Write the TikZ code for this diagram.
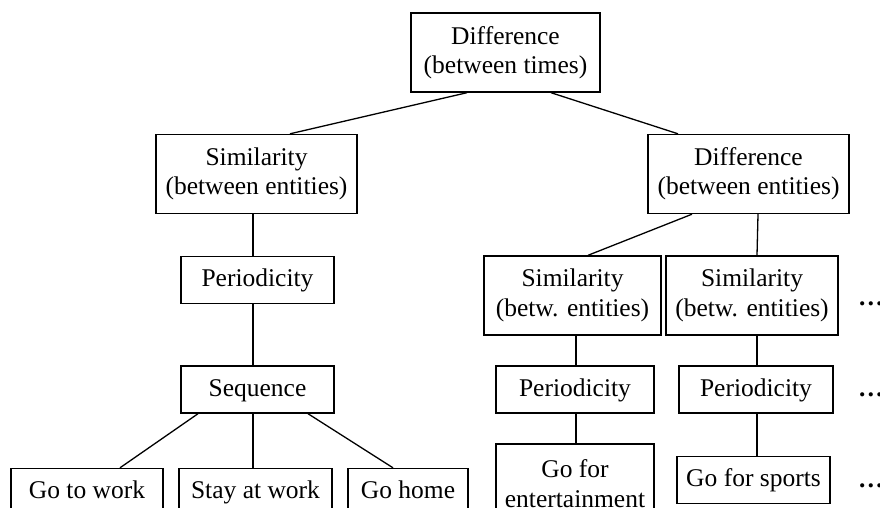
\documentclass[tikz,border=0pt]{standalone}
\usepackage{fontspec}
\setmainfont{Liberation Serif}
\usetikzlibrary{positioning,calc}

\begin{document}
\begin{tikzpicture}[x=1pt, y=-1pt,
		boxbase/.style={draw=black, rectangle, line width=1.4pt, align=center, inner sep=2pt, font=\fontsize{25.5}{29.3}\selectfont},
		opbox/.style={boxbase, minimum height=47pt, text height=19pt, text depth=6pt},
		twoline/.style={boxbase, minimum height=79pt},
		more/.style={draw=none, inner sep=0pt, anchor=base west, font=\fontsize{25.5}{29.3}\selectfont\bfseries},
		link/.style={line width=1.3pt, -, color=black}
		]
		\useasboundingbox (0,0) rectangle (880,508);
		
		\node[twoline, minimum width=189pt](d0) at (505.5,52.5) {Difference\\(between times)};
		\node[twoline, minimum width=201pt](s1) at (256.5,174) {Similarity\\(between entities)};
		\node[twoline, minimum width=201pt](d1) at (748.5,174) {Difference\\(between entities)};
		
		% left branch
		\node[opbox, minimum width=153pt](p1) at (257.5,280) {Periodicity};
		\node[opbox, minimum width=153pt](q1) at (257.5,389.5) {Sequence};
		\node[opbox, minimum width=152pt](g1) at (87,492) {Go to work};
		\node[opbox, minimum width=153pt](g2) at (255.5,492) {Stay at work};
		\node[opbox, minimum width=120pt](g3) at (408,492) {Go home};
		
		% right branch
		\node[twoline, minimum width=177pt](s2) at (572.5,295.5) {Similarity\\(betw. entities)};
		\node[twoline, minimum width=172pt](s3) at (752,295.5) {Similarity\\(betw. entities)};
		\node[opbox, minimum width=158pt](p2) at (575,389.5) {Periodicity};
		\node[opbox, minimum width=154pt](p3) at (756,389.5) {Periodicity};
		\node[twoline, minimum width=158pt](g4) at (575,483.5) {Go for\\entertainment};
		\node[opbox, minimum width=153pt](g5) at (753.5,480) {Go for sports};
		
		\node[more](e1) at (858,305) {…};
		\node[more](e2) at (858,396) {…};
		\node[more](e3) at (858,487) {…};
		
		\draw [link] ([xshift=-38.5pt]d0.south) -- ([xshift=33.5pt]s1.north);
		\draw [link] ([xshift=45.5pt]d0.south) -- ([xshift=-70.5pt]d1.north);
		
		\draw [link] ([xshift=-3.5pt]s1.south) -- ([xshift=-4.5pt]p1.north);
		\draw [link] ([xshift=-4.5pt]p1.south) -- ([xshift=-4.5pt]q1.north);
		\draw [link] ([xshift=-59.5pt]q1.south) -- ([xshift=33pt]g1.north);
		\draw [link] ([xshift=-4.5pt]q1.south) -- ([xshift=-2.5pt]g2.north);
		\draw [link] ([xshift=50.5pt]q1.south) -- ([xshift=-15pt]g3.north);
		
		\draw [link] ([xshift=-56.5pt]d1.south) -- ([xshift=15.5pt]s2.north);
		\draw [link] ([xshift=9.5pt]d1.south) -- ([xshift=5pt]s3.north);
		\draw [link] ([xshift=3.5pt]s2.south) -- ([xshift=1pt]p2.north);
		\draw [link] ([xshift=1pt]p2.south) -- ([xshift=1pt]g4.north);
		\draw [link] ([xshift=5pt]s3.south) -- ([xshift=1pt]p3.north);
		\draw [link] ([xshift=1pt]p3.south) -- ([xshift=3.5pt]g5.north);
\end{tikzpicture}
\end{document}
